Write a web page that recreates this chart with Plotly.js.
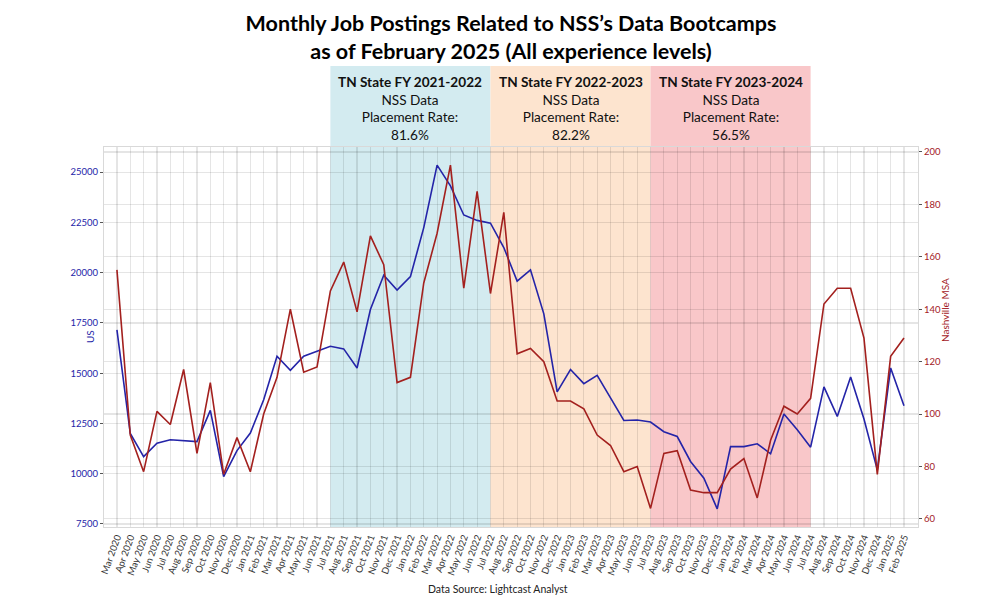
<!DOCTYPE html>
<html>
<head>
<meta charset="utf-8">
<script src="https://cdn.plot.ly/plotly-3.0.1.min.js"></script>
<style>html,body{margin:0;padding:0;background:#fff;}#chart{width:1000px;height:600px;}</style>
</head>
<body>
<div id="chart"></div>
<script>
const months = ["Mar 2020","Apr 2020","May 2020","Jun 2020","Jul 2020","Aug 2020","Sep 2020","Oct 2020","Nov 2020","Dec 2020",
"Jan 2021","Feb 2021","Mar 2021","Apr 2021","May 2021","Jun 2021","Jul 2021","Aug 2021","Sep 2021","Oct 2021","Nov 2021","Dec 2021",
"Jan 2022","Feb 2022","Mar 2022","Apr 2022","May 2022","Jun 2022","Jul 2022","Aug 2022","Sep 2022","Oct 2022","Nov 2022","Dec 2022",
"Jan 2023","Feb 2023","Mar 2023","Apr 2023","May 2023","Jun 2023","Jul 2023","Aug 2023","Sep 2023","Oct 2023","Nov 2023","Dec 2023",
"Jan 2024","Feb 2024","Mar 2024","Apr 2024","May 2024","Jun 2024","Jul 2024","Aug 2024","Sep 2024","Oct 2024","Nov 2024","Dec 2024",
"Jan 2025","Feb 2025"];

const usPostings = [17150,12000,10850,11520,11690,11650,11600,13150,9860,11150,
12020,13680,15840,15140,15840,16090,16340,16210,15260,18170,19870,19130,
19800,22240,25350,24320,22870,22600,22460,21250,19580,20140,17950,14070,
15180,14480,14890,13770,12650,12670,12570,12090,11850,10610,9780,8250,
11350,11350,11490,10990,12970,12190,11320,14320,12850,14810,12720,10190,
15260,13380];

const nashvillePostings = [155,92,78,101,96,117,85,112,77,91,
78,100,114,140,116,118,147,158,139,168,157,112,
114,150,169,195,148,185,146,177,123,125,120,105,
105,102,92,88,78,80,64,85,86,71,70,70,
79,83,68,90,103,100,106,142,148,148,129,77,
122,129];

const usTicks = [7500,10000,12500,15000,17500,20000,22500,25000];
const nashTicks = [60,80,100,120,140,160,180,200];

const fyLabels = ["TN State FY 2021-2022","TN State FY 2022-2023","TN State FY 2023-2024"];
const fyStart = ["Jul 2021","Jul 2022","Jul 2023"];
const fyEnd = ["Jul 2022","Jul 2023","Jul 2024"];
const fyMid = ["Jan 2022","Jan 2023","Jan 2024"];
const placementRates = ["81.6%","82.2%","56.5%"];
const fyColors = ["#d3ebf0","#fde4cf","#f9c7c9"];

const idx = months.map((m,i)=>i);
const F = "Lato, 'Open Sans', sans-serif";
const BLUE = '#2424a8', RED = '#a3201e';

const traces = [
  {x: idx, y: usPostings, type:'scatter', mode:'lines', name:'US',
   line:{color:BLUE, width:1.6}, yaxis:'y'},
  {x: idx, y: nashvillePostings, type:'scatter', mode:'lines', name:'Nashville MSA',
   line:{color:RED, width:1.6}, yaxis:'y2'}
];

const shapes = fyStart.map((s,i)=>({
  type:'rect', xref:'x', yref:'paper', layer:'below',
  x0: months.indexOf(s), x1: months.indexOf(fyEnd[i]), y0:0, y1:1.213,
  fillcolor: fyColors[i], line:{width:0}
}));

const annotations = fyLabels.map((l,i)=>({
  xref:'x', yref:'paper', x: months.indexOf(fyMid[i]), y:1.1026,
  xanchor:'center', yanchor:'middle', showarrow:false, align:'center',
  text: '<b>'+l+'</b><br>NSS Data<br>Placement Rate:<br>'+placementRates[i],
  font:{family:F, size:13.6, color:'#111'}
}));
annotations.push({
  xref:'paper', yref:'paper', x:0.484, y:-0.163, xanchor:'center', yanchor:'middle',
  showarrow:false, text:'Data Source: Lightcast Analyst', font:{family:F, size:10.5, color:'#222'}
});
annotations.push({
  xref:'paper', yref:'paper', x:-14/814, y:(527-337)/380, xanchor:'center', yanchor:'middle',
  showarrow:false, textangle:-90, text:'US', font:{family:F, size:10, color:BLUE}
});
annotations.push({
  xref:'paper', yref:'paper', x:(945-104)/814, y:(527-310)/380, xanchor:'center', yanchor:'middle',
  showarrow:false, textangle:-90, text:'Nashville MSA', font:{family:F, size:10, color:RED}
});

const layout = {
  width:1000, height:600,
  margin:{l:104, r:82, t:147, b:73},
  paper_bgcolor:'#fff', plot_bgcolor:'rgba(0,0,0,0)',
  showlegend:false,
  title:{text:'<b>Monthly Job Postings Related to NSS’s Data Bootcamps<br>as of February 2025 (All experience levels)</b>',
    x:0.5, xanchor:'center', xref:'paper', y:1-31/600, yref:'container', yanchor:'middle',
    font:{family:F, size:21.5, color:'#000'}},
  xaxis:{
    range:[-0.97, 60.05], tickmode:'array', tickvals: idx, ticktext: months,
    tickangle:-70, tickfont:{family:F, size:9.5, color:'#333'},
    showgrid:true, gridcolor:'rgba(0,0,0,0.1)', gridwidth:1.2,
    zeroline:false, showline:true, linecolor:'#d9d9d9', mirror:true,
    ticks:'', automargin:false
  },
  yaxis:{
    range:[7350, 26250], tickmode:'array', tickvals:usTicks, ticktext:usTicks.map(String),
    tickfont:{family:F, size:9.5, color:BLUE},
    showgrid:true, gridcolor:'rgba(0,0,0,0.1)', gridwidth:1.2, zeroline:false,
    showline:true, linecolor:'#d9d9d9', ticks:'outside', ticklen:3, tickcolor:'#555',
    automargin:false
  },
  yaxis2:{
    range:[56.9, 201.9], tickmode:'array', tickvals:nashTicks, ticktext:nashTicks.map(String),
    overlaying:'y', side:'right',
    tickfont:{family:F, size:9.5, color:RED},
    showgrid:true, gridcolor:'rgba(0,0,0,0.1)', gridwidth:1.2, zeroline:false,
    showline:true, linecolor:'#d9d9d9', ticks:'outside', ticklen:3, tickcolor:'#555',
    automargin:false
  },
  shapes: shapes,
  annotations: annotations
};

Plotly.newPlot('chart', traces, layout, {displayModeBar:false, staticPlot:true});
</script>
</body>
</html>
